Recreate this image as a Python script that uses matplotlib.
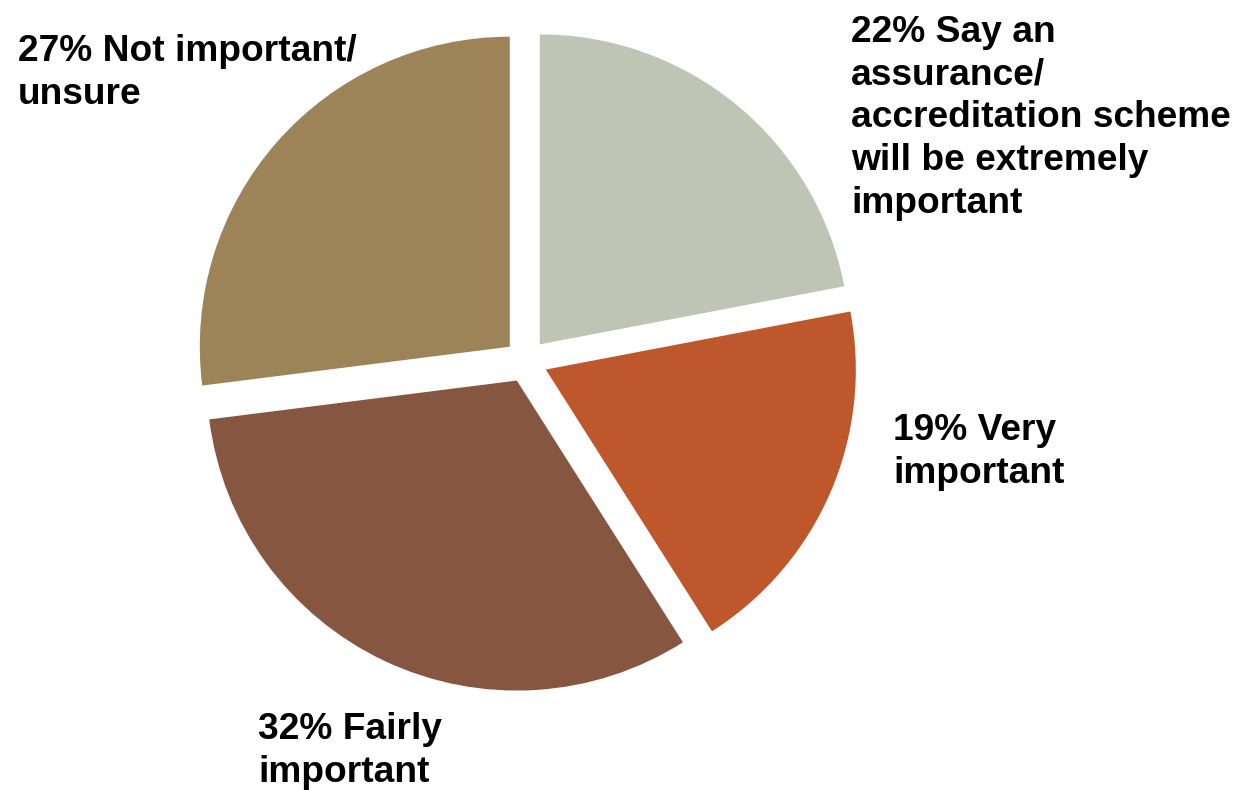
import matplotlib.pyplot as plt

labels = ["22% Say an\nassurance/\naccreditation scheme\nwill be extremely\nimportant",
          "19% Very\nimportant",
          "32% Fairly\nimportant",
          "27% Not important/\nunsure"]
shares = [22, 19, 32, 27]
colors = ["#BFC5B5", "#BE582C", "#875641", "#9C8358"]

# label anchor points (left edge, baseline of last line), in pixels from top-left
label_x = [851, 893, 258, 18]
label_y = [213, 483, 782, 104]

W, H = 1238, 790
fig = plt.figure(figsize=(W / 100, H / 100), dpi=100)
ax = fig.add_axes([0, 0, 1, 1])

# explode is an absolute offset in data units (pixels here)
ax.pie(shares, colors=colors, startangle=90, counterclock=False,
       radius=310, center=(526, H - 361), explode=[21.6] * 4,
       frame=True, wedgeprops=dict(linewidth=0))
ax.set_xlim(0, W)
ax.set_ylim(0, H)
ax.axis("off")

for lab, x, y in zip(labels, label_x, label_y):
    ax.text(x, H - y, lab, ha="left", va="baseline", fontsize=26.7,
            fontweight="bold", family="Liberation Sans", linespacing=1.29)

fig.savefig("out.png", dpi=100)
